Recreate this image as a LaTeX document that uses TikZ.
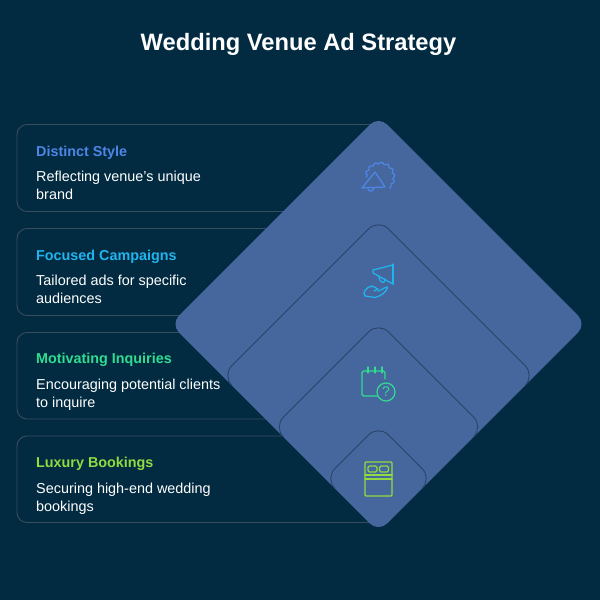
\documentclass[tikz,border=0pt]{standalone}
\usepackage{fontspec}
\setmainfont{Liberation Sans}
\definecolor{bgc}{HTML}{022B41}
\definecolor{cardc}{HTML}{3A4D5E}
\definecolor{diac}{HTML}{46679E}
\definecolor{inlinec}{HTML}{2A4468}
\definecolor{cone}{HTML}{4C86E6}
\definecolor{ctwo}{HTML}{20B4EE}
\definecolor{cthree}{HTML}{30DC90}
\definecolor{cfour}{HTML}{90DC40}
\tikzset{
  x=1pt,y=-1pt,
  cardbox/.style={draw=cardc,line width=0.9pt,rounded corners=10pt},
  heading/.style={anchor=base west,inner sep=0pt,font=\fontsize{14.35}{17}\selectfont\bfseries},
  desc/.style={anchor=north west,inner sep=0pt,text=white,align=left,font=\fontsize{14.4}{17.5}\selectfont},
  diamondfill/.style={fill=diac,rounded corners=12pt},
  innerline/.style={draw=inlinec,line width=0.9pt,rounded corners=14pt},
  icon/.style={line width=1.25pt,line cap=round,line join=round},
}
\begin{document}
\begin{tikzpicture}
\useasboundingbox (0,0) rectangle (600,600);
\fill[bgc] (0,0) rectangle (600,600);
\node[anchor=base,inner sep=0pt,text=white,font=\fontsize{23.7}{27}\selectfont\bfseries] (title) at (298.5,50) {Wedding Venue Ad Strategy};

% cards
\draw[cardbox] (17,124.5) rectangle (385,211.5);
\draw[cardbox] (17,228.5) rectangle (385,315.5);
\draw[cardbox] (17,332.5) rectangle (385,419);
\draw[cardbox] (17,436) rectangle (385,522.5);

\node[heading,text=cone] (h1) at (36,156) {Distinct Style};
\node[desc] (d1) at (36,171) {Reflecting venue's unique\\brand};
\node[heading,text=ctwo] (h2) at (36,260) {Focused Campaigns};
\node[desc] (d2) at (36,275) {Tailored ads for specific\\audiences};
\node[heading,text=cthree] (h3) at (36,363) {Motivating Inquiries};
\node[desc] (d3) at (36,379) {Encouraging potential clients\\to inquire};
\node[heading,text=cfour] (h4) at (36,467) {Luxury Bookings};
\node[desc] (d4) at (36,483) {Securing high-end wedding\\bookings};

% diamonds
\fill[diamondfill] (378.5,116) -- (586.5,324) -- (378.5,532) -- (170.5,324) -- cycle;
\draw[innerline] (228,381.5) -- (222,375.5) -- (378.5,219) -- (535,375.5) -- (529,381.5);
\draw[innerline] (280,433.5) -- (273.5,427) -- (378.5,322) -- (483.5,427) -- (477,433.5);
\draw[innerline] (332,485.5) -- (325,478.5) -- (378.5,425) -- (432,478.5) -- (425,485.5);

% icon 1
\draw[icon,cone] plot[smooth,samples=120,domain=-50:180] ({380+(14+0.9*sin(14*\x))*cos(\x)},{177-(14+0.9*sin(14*\x))*sin(\x)});
\draw[icon,cone] (375,172) -- (362,188) -- (385,187) -- cycle;
\draw[icon,cone] (368,189) .. controls (369,192) and (373,192) .. (374,188);
% icon 2
\draw[icon,ctwo] (373,270) -- (393,265) -- (393,284) -- (373,273) -- cycle;
\draw[icon,ctwo] (393,264) -- (393,284);
\draw[icon,ctwo] (379,276) .. controls (379,284) and (386,284) .. (385,279);
\draw[icon,ctwo] (365,296) .. controls (362,293) and (366,287) .. (372,286) -- (378,289) -- (374,291);
\draw[icon,ctwo] (365,296) -- (375,297.5) .. controls (381,296) and (387,292) .. (387.5,287) .. controls (385,287) and (382,290) .. (378,291);
% icon 3
\draw[icon,cthree,rounded corners=1.5pt] (385,379) -- (385,371) -- (362,371) -- (362,396) -- (377,396);
\draw[icon,cthree] (368,367) -- (368,373) (375,367) -- (375,373) (382,367) -- (382,373);
\node[draw=cthree,line width=1.25pt,circle,minimum size=18pt,inner sep=0pt,text=cthree,font=\fontsize{14}{14}\selectfont] (q) at (386,392) {?};
% icon 4
\draw[icon,cfour,rounded corners=1pt] (365,462) rectangle (392,496);
\draw[icon,cfour] (365,475) -- (392,475) (365,479) -- (392,479);
\draw[icon,cfour,rounded corners=1.5pt] (368,466) rectangle (377,472);
\draw[icon,cfour,rounded corners=1.5pt] (379.5,466) rectangle (388.5,472);
\end{tikzpicture}
\end{document}
